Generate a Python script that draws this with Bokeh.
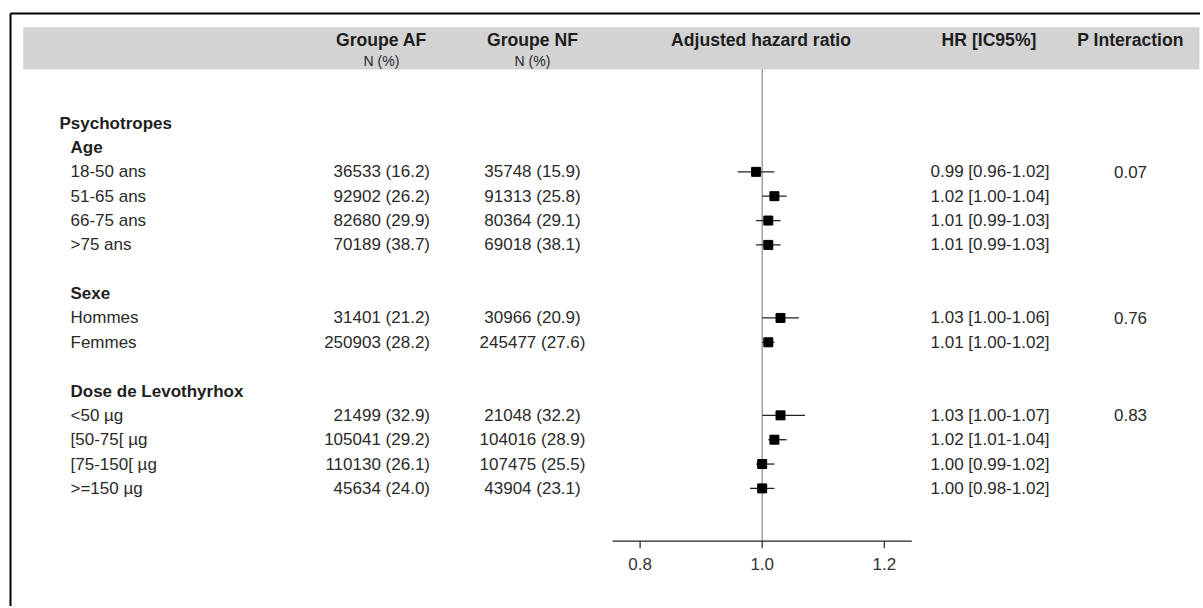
from bokeh.plotting import figure
from bokeh.models import Range1d
from bokeh.embed import file_html
from bokeh.resources import INLINE
from bokeh.core.properties import value

# ---------------- data ----------------
section_title = "Psychotropes"
group_names = ["Age", "Sexe", "Dose de Levothyrhox"]
group_sizes = [4, 2, 4]
row_labels = ["18-50 ans", "51-65 ans", "66-75 ans", ">75 ans",
              "Hommes", "Femmes",
              "<50 µg", "[50-75[ µg", "[75-150[ µg", ">=150 µg"]
af_n = [36533, 92902, 82680, 70189, 31401, 250903, 21499, 105041, 110130, 45634]
af_pct = [16.2, 26.2, 29.9, 38.7, 21.2, 28.2, 32.9, 29.2, 26.1, 24.0]
nf_n = [35748, 91313, 80364, 69018, 30966, 245477, 21048, 104016, 107475, 43904]
nf_pct = [15.9, 25.8, 29.1, 38.1, 20.9, 27.6, 32.2, 28.9, 25.5, 23.1]
hr = [0.99, 1.02, 1.01, 1.01, 1.03, 1.01, 1.03, 1.02, 1.00, 1.00]
hr_lo = [0.96, 1.00, 0.99, 0.99, 1.00, 1.00, 1.00, 1.01, 0.99, 0.98]
hr_hi = [1.02, 1.04, 1.03, 1.03, 1.06, 1.02, 1.07, 1.04, 1.02, 1.02]
p_interaction = ["0.07", "0.76", "0.83"]
x_ticks = [0.8, 1.0, 1.2]
header_titles = ["Groupe AF", "Groupe NF", "Adjusted hazard ratio", "HR [IC95%]", "P Interaction"]
header_sub = ["N (%)", "N (%)"]

# ---------------- layout ----------------
W, H = 1200, 606
X0, Y0 = 0, 0                      # page offset of the figure (page renders at origin)
HR_REF_PX, HR_PX_PER_UNIT = 761.7, 610.5
ROW1_PX, ROW_PX = 147.0, 24.35
FONT = value("Liberation Sans")
DARK = "#1e1e1e"
TXT = "#2a2a2a"


def hr_at(px):
    return 1 + (px - HR_REF_PX) / HR_PX_PER_UNIT


def row_at(py):
    return 1 + (py - ROW1_PX) / ROW_PX


p = figure(width=W, height=H, output_backend="svg", toolbar_location=None,
           title=None, x_axis_location=None, y_axis_location=None,
           x_range=Range1d(X0, X0 + W), y_range=Range1d(Y0 + H, Y0),
           min_border=0, outline_line_color=None)
p.grid.visible = False
p.extra_x_ranges = {"hr": Range1d(hr_at(X0), hr_at(X0 + W))}
p.extra_y_ranges = {"row": Range1d(row_at(Y0 + H), row_at(Y0))}

# row positions (row units): section title 0, group title, then items, blank line between groups
group_rows, item_rows, p_rows = [], [], []
r = 1
for gi, n in enumerate(group_sizes):
    group_rows.append(r)
    r += 1
    p_rows.append(r)
    for _ in range(n):
        item_rows.append(r)
        r += 1
    r += 1

# outer border
p.line(x=[10, X0 + W], y=[13, 13], line_color="black", line_width=2)
p.line(x=[10, 10], y=[13, Y0 + H], line_color="black", line_width=2)

# header band
p.quad(left=22.7, right=1199, top=26.7, bottom=69, fill_color="#d3d3d3", line_color=None)

p.text(x=[381, 532, 760.5, 988.5, 1130], y=[39] * 5, text=header_titles,
       text_align="center", text_baseline="middle", text_font=FONT,
       text_font_style="bold", text_font_size="17.6px", text_color=DARK)
p.text(x=[381, 532], y=[60, 60], text=header_sub, text_align="center",
       text_baseline="middle", text_font=FONT, text_font_size="14px", text_color=TXT)

# left labels
p.text(x=[59], y=[0], text=[section_title], y_range_name="row",
       text_baseline="middle", text_font=FONT, text_font_style="bold",
       text_font_size="17px", text_color=DARK)
p.text(x=[70] * len(group_names), y=group_rows, text=group_names, y_range_name="row",
       text_baseline="middle", text_font=FONT, text_font_style="bold",
       text_font_size="17px", text_color=DARK)
p.text(x=[70] * len(row_labels), y=item_rows, text=row_labels, y_range_name="row",
       text_baseline="middle", text_font=FONT, text_font_size="17px", text_color=TXT)

# N (%) columns
af_txt = [f"{n} ({v:.1f})" for n, v in zip(af_n, af_pct)]
nf_txt = [f"{n} ({v:.1f})" for n, v in zip(nf_n, nf_pct)]
p.text(x=[429.5] * len(af_txt), y=item_rows, text=af_txt, y_range_name="row",
       text_align="right", text_baseline="middle", text_font=FONT,
       text_font_size="17px", text_color=TXT)
p.text(x=[532] * len(nf_txt), y=item_rows, text=nf_txt, y_range_name="row",
       text_align="center", text_baseline="middle", text_font=FONT,
       text_font_size="17px", text_color=TXT)

# HR text and p interaction
hr_txt = [f"{a:.2f} [{b:.2f}-{c:.2f}]" for a, b, c in zip(hr, hr_lo, hr_hi)]
p.text(x=[930] * len(hr_txt), y=item_rows, text=hr_txt, y_range_name="row",
       text_align="left", text_baseline="middle", text_font=FONT,
       text_font_size="17px", text_color=TXT)
p.text(x=[1130] * len(p_interaction), y=p_rows, text=p_interaction, y_range_name="row",
       text_align="center", text_baseline="middle", text_font=FONT,
       text_font_size="17px", text_color=TXT)

# forest plot
AXIS_Y = 540.7
p.segment(x0=[1.0], x1=[1.0], y0=[69], y1=[AXIS_Y], x_range_name="hr",
          line_color="#9a9a9a", line_width=1.4)
p.segment(x0=hr_lo, x1=hr_hi, y0=item_rows, y1=item_rows, x_range_name="hr",
          y_range_name="row", line_color="#222222", line_width=1.3)
p.scatter(x=hr, y=item_rows, marker="square", size=9, x_range_name="hr",
          y_range_name="row", fill_color="black", line_color="black")

# x axis of the forest plot
p.segment(x0=[x_ticks[0] - 0.045], x1=[x_ticks[-1] + 0.045], y0=[AXIS_Y], y1=[AXIS_Y],
          x_range_name="hr", line_color="#222222", line_width=1.2)
p.segment(x0=x_ticks, x1=x_ticks, y0=[AXIS_Y] * 3, y1=[AXIS_Y + 7] * 3,
          x_range_name="hr", line_color="#222222", line_width=1.2)
p.text(x=x_ticks, y=[563] * 3, text=[f"{t:.1f}" for t in x_ticks], x_range_name="hr",
       text_align="center", text_baseline="middle", text_font=FONT,
       text_font_size="17px", text_color="#333333")

open("out.html", "w").write(file_html(p, INLINE))
